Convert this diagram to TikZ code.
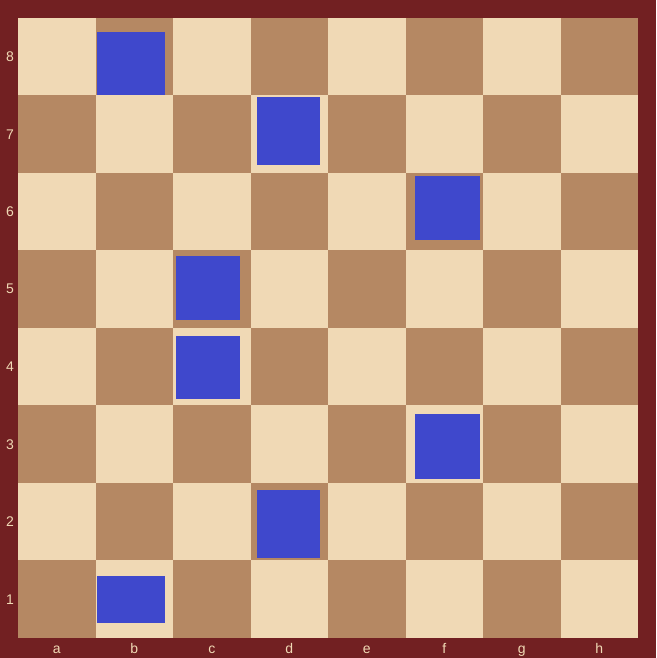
\documentclass[tikz,border=0pt]{standalone}
\usepackage{fontspec}
\setmainfont{Liberation Sans}
\usetikzlibrary{positioning}

\definecolor{frame}{HTML}{722022}
\definecolor{lightsq}{HTML}{F0D9B5}
\definecolor{darksq}{HTML}{B58863}
\definecolor{hlblue}{HTML}{3F48CC}

\begin{document}
\begin{tikzpicture}[x=1pt, y=1pt,
  sq/.style={inner sep=0pt, outer sep=0pt, minimum width=77.5pt,
             minimum height=77.5pt, anchor=south west},
  hl/.style={fill=hlblue, inner sep=0pt, outer sep=0pt, anchor=south west},
  lbl/.style={text=lightsq, inner sep=0pt, font=\fontsize{14}{16}\selectfont}
]
% frame
\fill[frame] (0,0) rectangle (656,658);
\useasboundingbox (0,0) rectangle (656,658);

% squares
\foreach \f [count=\i from 0] in {a,b,c,d,e,f,g,h} {
  \foreach \r in {1,...,8} {
    \pgfmathtruncatemacro{\sqcol}{mod(\i+\r,2)}
    \ifnum\sqcol=1
      \node[sq, fill=darksq] (\f\r) at (18+77.5*\i, 20+77.5*\r-77.5) {};
    \else
      \node[sq, fill=lightsq] (\f\r) at (18+77.5*\i, 20+77.5*\r-77.5) {};
    \fi
  }
  \node[lbl, anchor=base] (file\f) at (18+77.5*\i+38.75, 5) {\f};
}
\foreach \r in {1,...,8}
  \node[lbl] (rank\r) at (10, 20+77.5*\r-38.75) {\r};

% highlighted squares
\node[hl, minimum width=68pt, minimum height=63pt] (hb8) at (97,563) {};
\node[hl, minimum width=63pt, minimum height=68pt] (hd7) at (257,493) {};
\node[hl, minimum width=65pt, minimum height=64pt] (hf6) at (415,418) {};
\node[hl, minimum width=64pt, minimum height=64pt] (hc5) at (176,338) {};
\node[hl, minimum width=64pt, minimum height=63pt] (hc4) at (176,259) {};
\node[hl, minimum width=65pt, minimum height=65pt] (hf3) at (415,179) {};
\node[hl, minimum width=63pt, minimum height=68pt] (hd2) at (257,100) {};
\node[hl, minimum width=68pt, minimum height=47pt] (hb1) at (97,35) {};
\end{tikzpicture}
\end{document}
